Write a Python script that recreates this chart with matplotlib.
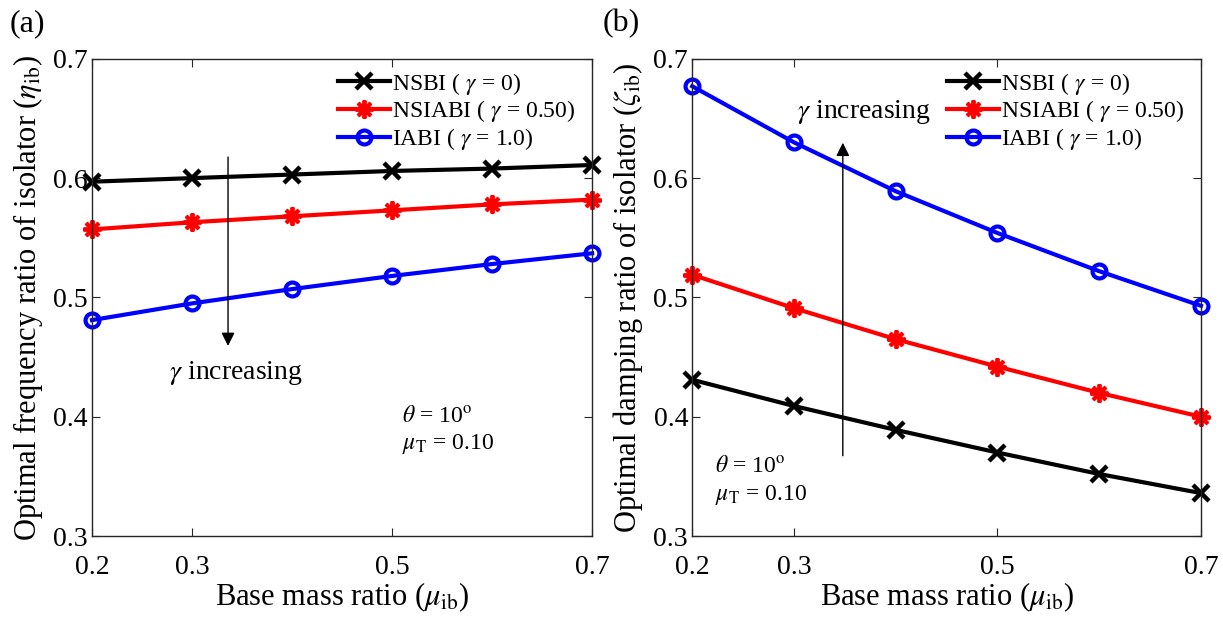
import matplotlib
matplotlib.use('Agg')
import matplotlib.pyplot as plt

plt.rcParams['font.family'] = ['Liberation Serif', 'DejaVu Serif']
plt.rcParams['mathtext.fontset'] = 'stix'

mu_ib = [0.2, 0.3, 0.4, 0.5, 0.6, 0.7]
eta_nsbi = [0.597, 0.600, 0.603, 0.606, 0.608, 0.611]
eta_nsiabi = [0.557, 0.563, 0.568, 0.573, 0.578, 0.582]
eta_iabi = [0.481, 0.495, 0.507, 0.518, 0.528, 0.537]
zeta_nsbi = [0.431, 0.409, 0.389, 0.370, 0.352, 0.336]
zeta_nsiabi = [0.519, 0.491, 0.465, 0.442, 0.420, 0.400]
zeta_iabi = [0.677, 0.630, 0.589, 0.554, 0.522, 0.493]
xticks = [0.2, 0.3, 0.5, 0.7]
yticks = [0.3, 0.4, 0.5, 0.6, 0.7]
labels = ['NSBI ( $\\gamma$ = 0)', 'NSIABI ( $\\gamma$ = 0.50)', 'IABI ( $\\gamma$ = 1.0)']

fig = plt.figure(figsize=(12.23, 6.19), dpi=100)
ax1 = fig.add_axes([0.0752, 0.134, 0.409, 0.771])
ax2 = fig.add_axes([0.566, 0.134, 0.416, 0.771])

def panel(ax, ys, ylabel):
    ax.plot(mu_ib, ys[0], color='k', lw=3, marker='x', ms=11, mew=3.2, label=labels[0], clip_on=False)
    ax.plot(mu_ib, ys[1], color='r', lw=3, marker=(8, 2, 0), ms=13, mew=2.8, label=labels[1], clip_on=False)
    ax.plot(mu_ib, ys[2], color='b', lw=3, marker='o', ms=10, mew=3, mfc='none', label=labels[2], clip_on=False)
    ax.set_xlim(0.2, 0.7)
    ax.set_ylim(0.3, 0.7)
    ax.set_xticks(xticks)
    ax.set_xticklabels(['0.2', '0.3', '0.5', '0.7'])
    ax.set_yticks(yticks)
    ax.set_yticklabels(['0.3', '0.4', '0.5', '0.6', '0.7'])
    ax.tick_params(direction='in', top=True, right=True, labelsize=20, length=6, colors='#262626')
    ax.tick_params(axis='x', pad=14)
    ax.tick_params(axis='y', pad=3)
    for s in ax.spines.values():
        s.set_color('#262626')
        s.set_linewidth(1.0)
    for t in ax.get_xticklabels() + ax.get_yticklabels():
        t.set_color('k')
    ax.set_xlabel('Base mass ratio ($\\mu_{\\rm ib}$)', fontsize=22, labelpad=0)
    ax.set_ylabel(ylabel, fontsize=22, labelpad=6)

panel(ax1, [eta_nsbi, eta_nsiabi, eta_iabi], 'Optimal frequency ratio of isolator ($\\eta_{\\rm ib}$)')
panel(ax2, [zeta_nsbi, zeta_nsiabi, zeta_iabi], 'Optimal damping ratio of isolator ($\\zeta_{\\rm ib}$)')

for ax in (ax1, ax2):
    ax.legend(loc='upper right', bbox_to_anchor=(1.0, 1.01), frameon=False, fontsize=17,
              handlelength=2.2, handletextpad=0.1, labelspacing=0.08, borderaxespad=0.3)

# annotations panel (a)
ax1.annotate('', xy=(0.336, 0.457), xytext=(0.336, 0.620),
             arrowprops=dict(arrowstyle='-|>', color='k', lw=1.0, mutation_scale=20))
ax1.text(0.277, 0.437, '$\\gamma$ increasing', fontsize=20, va='center')
ax1.text(0.51, 0.400, '$\\theta$ = 10$^{\\rm o}$', fontsize=17, va='center')
ax1.text(0.51, 0.377, '$\\mu_{\\rm T}$ = 0.10', fontsize=17, va='center')

# annotations panel (b)
ax2.annotate('', xy=(0.348, 0.632), xytext=(0.348, 0.365),
             arrowprops=dict(arrowstyle='-|>', color='k', lw=1.0, mutation_scale=20))
ax2.text(0.303, 0.655, '$\\gamma$ increasing', fontsize=20, va='center')
ax2.text(0.222, 0.358, '$\\theta$ = 10$^{\\rm o}$', fontsize=17, va='center')
ax2.text(0.222, 0.334, '$\\mu_{\\rm T}$ = 0.10', fontsize=17, va='center')

fig.text(0.008, 0.962, '(a)', fontsize=23, va='center')
fig.text(0.493, 0.962, '(b)', fontsize=23, va='center')

fig.savefig('out.png', dpi=100)
